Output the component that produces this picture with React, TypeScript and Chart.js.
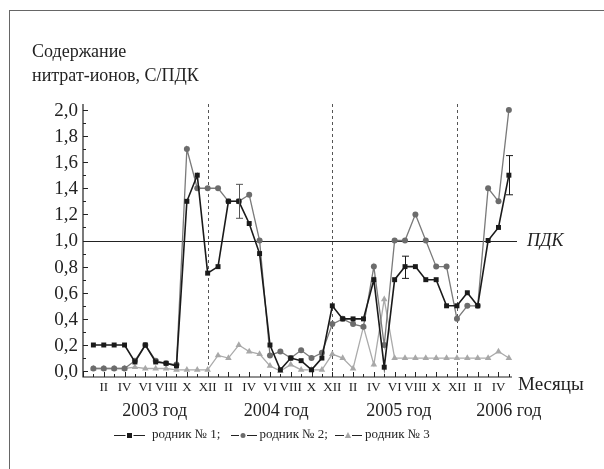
import React, { useEffect, useRef } from 'react';
import { Chart, registerables } from 'chart.js';

Chart.register(...registerables);

// ---- data (month index 0 = I 2003 ... 40 = V 2006) ----
const romanMonths = ['I', 'II', 'III', 'IV', 'V', 'VI', 'VII', 'VIII', 'IX', 'X', 'XI', 'XII'];
const yearLabels = ['2003 год', '2004 год', '2005 год', '2006 год'];
const seriesNames = ['родник № 1;', 'родник № 2;', 'родник № 3'];

const spring1 = [
  0.2, 0.2, 0.2, 0.2, 0.07, 0.2, 0.07, 0.06, 0.04, 1.3, 1.5, 0.75,
  0.8, 1.3, 1.3, 1.13, 0.9, 0.2, 0.01, 0.1, 0.08, 0.01, 0.1, 0.5,
  0.4, 0.4, 0.4, 0.7, 0.03, 0.7, 0.8, 0.8, 0.7, 0.7, 0.5, 0.5,
  0.6, 0.5, 1.0, 1.1, 1.5,
];
const spring2 = [
  0.02, 0.02, 0.02, 0.02, 0.08, 0.2, 0.08, 0.06, 0.05, 1.7, 1.4, 1.4,
  1.4, 1.3, 1.3, 1.35, 1.0, 0.12, 0.15, 0.1, 0.16, 0.1, 0.14, 0.36,
  0.4, 0.36, 0.34, 0.8, 0.2, 1.0, 1.0, 1.2, 1.0, 0.8, 0.8, 0.4,
  0.5, 0.5, 1.4, 1.3, 2.0,
];
const spring3 = [
  0.02, 0.02, 0.02, 0.02, 0.03, 0.02, 0.02, 0.02, 0.01, 0.01, 0.01, 0.01,
  0.12, 0.1, 0.2, 0.15, 0.13, 0.04, 0.0, 0.05, 0.01, 0.01, 0.01, 0.13,
  0.1, 0.02, 0.34, 0.05, 0.55, 0.1, 0.1, 0.1, 0.1, 0.1, 0.1, 0.1,
  0.1, 0.1, 0.1, 0.15, 0.1,
];
// error bars: [series, month index, low, high]
const errorBars: [number, number, number, number][] = [
  [1, 14, 1.17, 1.43],
  [0, 30, 0.71, 0.88],
  [0, 40, 1.35, 1.65],
];
const yTickValues = [0, 0.2, 0.4, 0.6, 0.8, 1.0, 1.2, 1.4, 1.6, 1.8, 2.0];
const yearBoundaries = [11, 23, 35];
const pdkLevel = 1.0;

// ---- layout constants ----
const W = 604;
const H = 469;
const FONT = "'Liberation Serif', 'Times New Roman', serif";
const TEXT = '#222';
const yearLabelAt = [5.9, 17.6, 29.4, 40.0];
const colors = ['#1a1a1a', '#6c6c6c', '#a8a8a8'];
const lineColors = ['#1a1a1a', '#7a7a7a', '#ababab'];

const toPoints = (arr: number[]) => arr.map((v, i) => ({ x: i, y: v }));

const decorPlugin = {
  id: 'decor',
  beforeDatasetsDraw(chart: any) {
    const { ctx, chartArea: a, scales } = chart;
    const x = scales.x;
    const y = scales.y;
    ctx.save();
    // dashed year separators
    ctx.strokeStyle = '#555';
    ctx.lineWidth = 1;
    ctx.setLineDash([3, 3]);
    yearBoundaries.forEach((m) => {
      const px = Math.round(x.getPixelForValue(m)) + 0.5;
      ctx.beginPath();
      ctx.moveTo(px, a.bottom);
      ctx.lineTo(px, a.top);
      ctx.stroke();
    });
    ctx.setLineDash([]);
    // ПДК line
    const py = Math.round(y.getPixelForValue(pdkLevel)) + 0.5;
    ctx.strokeStyle = '#222';
    ctx.beginPath();
    ctx.moveTo(a.left, py);
    ctx.lineTo(a.right + 5, py);
    ctx.stroke();
    ctx.restore();
  },
  afterDatasetsDraw(chart: any) {
    const { ctx, chartArea: a, scales } = chart;
    const x = scales.x;
    const y = scales.y;
    ctx.save();
    // error bars
    errorBars.forEach(([s, m, lo, hi]) => {
      const px = Math.round(x.getPixelForValue(m)) + 0.5;
      const p1 = y.getPixelForValue(lo);
      const p2 = y.getPixelForValue(hi);
      ctx.strokeStyle = s === 0 ? '#1a1a1a' : '#555';
      ctx.lineWidth = 1;
      ctx.beginPath();
      ctx.moveTo(px, p1);
      ctx.lineTo(px, p2);
      ctx.moveTo(px - 3.5, p1);
      ctx.lineTo(px + 3.5, p1);
      ctx.moveTo(px - 3.5, p2);
      ctx.lineTo(px + 3.5, p2);
      ctx.stroke();
    });

    // axes
    ctx.strokeStyle = '#222';
    ctx.lineWidth = 1.2;
    ctx.beginPath();
    ctx.moveTo(a.left, a.top);
    ctx.lineTo(a.left, a.bottom);
    ctx.lineTo(a.right, a.bottom);
    ctx.stroke();

    // y ticks (inward)
    ctx.lineWidth = 1;
    for (let k = 0; k < yTickValues.length; k++) {
      const v = yTickValues[k];
      const py = Math.round(y.getPixelForValue(v)) + 0.5;
      ctx.beginPath();
      ctx.moveTo(a.left, py);
      ctx.lineTo(a.left + 5, py);
      ctx.stroke();
      if (k < yTickValues.length - 1) {
        const pm = Math.round(y.getPixelForValue((v + yTickValues[k + 1]) / 2)) + 0.5;
        ctx.beginPath();
        ctx.moveTo(a.left, pm);
        ctx.lineTo(a.left + 3, pm);
        ctx.stroke();
      }
    }
    ctx.fillStyle = TEXT;
    ctx.font = `19px ${FONT}`;
    ctx.textAlign = 'right';
    ctx.textBaseline = 'middle';
    yTickValues.forEach((v) => {
      ctx.fillText(v.toFixed(1).replace('.', ','), a.left - 5, y.getPixelForValue(v) + 1);
    });

    // x ticks (inward), one per month, starting at the axis corner
    const nMonths = spring1.length;
    for (let i = -1; i < nMonths; i++) {
      const px = Math.round(x.getPixelForValue(i)) + 0.5;
      const len = i % 2 !== 0 ? 5 : 3;
      ctx.beginPath();
      ctx.moveTo(px, a.bottom);
      ctx.lineTo(px, a.bottom - len);
      ctx.stroke();
    }
    ctx.font = `13px ${FONT}`;
    ctx.textAlign = 'center';
    ctx.textBaseline = 'middle';
    for (let i = 1; i < nMonths; i += 2) {
      ctx.fillText(romanMonths[i % 12], x.getPixelForValue(i), a.bottom + 11);
    }
    ctx.font = `18px ${FONT}`;
    yearLabels.forEach((t, k) => {
      ctx.fillText(t, x.getPixelForValue(yearLabelAt[k]), a.bottom + 34);
    });
    ctx.textAlign = 'left';
    ctx.font = `19px ${FONT}`;
    ctx.fillText('Месяцы', a.right + 6, a.bottom + 8);
    ctx.font = `italic 18px ${FONT}`;
    ctx.fillText('ПДК', a.right + 15, y.getPixelForValue(pdkLevel) + 1);

    // axis title
    ctx.font = `18px ${FONT}`;
    ctx.fillText('Содержание', 32, 52);
    ctx.fillText('нитрат-ионов, С/ПДК', 32, 76);

    // legend
    const ly = 435;
    const items = [
      { x0: 114, x1: 145, mx: 129.5, tx: 152 },
      { x0: 231, x1: 257, mx: 243, tx: 259.5 },
      { x0: 335, x1: 362, mx: 348, tx: 365 },
    ];
    ctx.font = `13px ${FONT}`;
    items.forEach((it, k) => {
      ctx.strokeStyle = '#222';
      ctx.lineWidth = 1;
      ctx.beginPath();
      ctx.moveTo(it.x0, ly + 0.5);
      ctx.lineTo(it.x1, ly + 0.5);
      ctx.stroke();
      ctx.fillStyle = '#fff';
      ctx.fillRect(it.mx - 4, ly - 4, 8, 9);
      ctx.fillStyle = colors[k];
      if (k === 0) {
        ctx.fillRect(it.mx - 2.5, ly - 2, 5, 5);
      } else if (k === 1) {
        ctx.beginPath();
        ctx.arc(it.mx, ly + 0.5, 2.5, 0, Math.PI * 2);
        ctx.fill();
      } else {
        ctx.beginPath();
        ctx.moveTo(it.mx, ly - 3);
        ctx.lineTo(it.mx + 3.2, ly + 3);
        ctx.lineTo(it.mx - 3.2, ly + 3);
        ctx.closePath();
        ctx.fill();
      }
      ctx.fillStyle = TEXT;
      ctx.textAlign = 'left';
      ctx.fillText(seriesNames[k], it.tx, ly);
    });
    ctx.restore();
  },
};

export default function App() {
  const ref = useRef<HTMLCanvasElement | null>(null);
  useEffect(() => {
    if (!ref.current) return;
    const chart = new Chart(ref.current, {
      type: 'line',
      data: {
        datasets: [
          {
            label: seriesNames[0],
            data: toPoints(spring1),
            borderColor: lineColors[0],
            borderWidth: 1.6,
            pointStyle: 'rect',
            pointRadius: 3.5,
            pointBackgroundColor: colors[0],
            pointBorderWidth: 0,
            clip: false,
          },
          {
            label: seriesNames[1],
            data: toPoints(spring2),
            borderColor: lineColors[1],
            borderWidth: 1.3,
            pointStyle: 'circle',
            pointRadius: 3,
            pointBackgroundColor: colors[1],
            pointBorderWidth: 0,
            clip: false,
          },
          {
            label: seriesNames[2],
            data: toPoints(spring3),
            borderColor: lineColors[2],
            borderWidth: 1.3,
            pointStyle: 'triangle',
            pointRadius: 3.8,
            pointBackgroundColor: colors[2],
            pointBorderWidth: 0,
            clip: false,
          },
        ],
      },
      options: {
        responsive: false,
        maintainAspectRatio: false,
        animation: false,
        layout: { padding: { left: 83, right: 92, top: 104, bottom: 92 } },
        scales: {
          x: { type: 'linear', min: -1, max: 40.3, display: false },
          y: { type: 'linear', min: -0.045, max: 2.045, display: false },
        },
        plugins: { legend: { display: false }, tooltip: { enabled: false } },
        elements: { line: { tension: 0 } },
      },
      plugins: [decorPlugin],
    });
    return () => chart.destroy();
  }, []);

  return (
    <div style={{ position: 'fixed', left: 0, top: 0, width: W, height: H, background: '#fff', overflow: 'hidden' }}>
      <div
        style={{
          position: 'absolute',
          left: 9,
          top: 10,
          width: 640,
          height: 520,
          border: '1px solid #666',
          boxSizing: 'border-box',
        }}
      />
      <canvas ref={ref} width={W} height={H} style={{ position: 'absolute', left: 0, top: 0 }} />
    </div>
  );
}
